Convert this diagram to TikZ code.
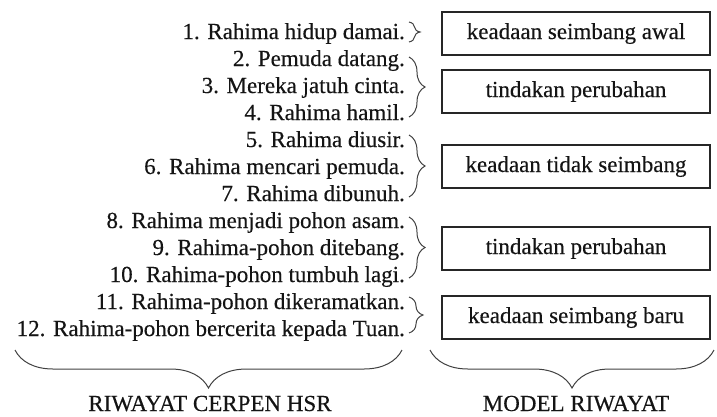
\documentclass[tikz,border=0pt]{standalone}
\usepackage{fontspec}
\setmainfont{Liberation Serif}[FakeBold=0.35]
\usetikzlibrary{decorations.pathreplacing,calc}
\begin{document}
\begin{tikzpicture}[x=1pt,y=1pt,
  every node/.style={font=\fontsize{23}{27}\selectfont, inner sep=0pt, text=black!92},
  ln/.style={anchor=base east},
  mbox/.style={draw=black!85, line width=1.6pt, minimum width=268pt, minimum height=43pt},
  brc/.style={decorate, decoration={brace, amplitude=#1}, line width=1pt, draw=black!75},
  lbl/.style={anchor=base},
]
\useasboundingbox (0,0) rectangle (717,-416);
% story lines
\node[ln] (l1)  at (405,-39)  {1. Rahima hidup damai.};
\node[ln] (l2)  at (405,-66)  {2. Pemuda datang.};
\node[ln] (l3)  at (405,-93)  {3. Mereka jatuh cinta.};
\node[ln] (l4)  at (405,-120) {4. Rahima hamil.};
\node[ln] (l5)  at (405,-147) {5. Rahima diusir.};
\node[ln] (l6)  at (405,-174) {6. Rahima mencari pemuda.};
\node[ln] (l7)  at (405,-201) {7. Rahima dibunuh.};
\node[ln] (l8)  at (405,-228) {8. Rahima menjadi pohon asam.};
\node[ln] (l9)  at (405,-255) {9. Rahima-pohon ditebang.};
\node[ln] (l10) at (405,-282) {10. Rahima-pohon tumbuh lagi.};
\node[ln] (l11) at (405,-309) {11. Rahima-pohon dikeramatkan.};
\node[ln] (l12) at (405,-336) {12. Rahima-pohon bercerita kepada Tuan.};
% model boxes
\node[mbox] (b1) at (576,-33.5)  {keadaan seimbang awal};
\node[mbox] (b2) at (576,-91.5)  {tindakan perubahan};
\node[mbox] (b3) at (576,-166.5) {keadaan tidak seimbang};
\node[mbox] (b4) at (576,-248.5) {tindakan perubahan};
\node[mbox] (b5) at (576,-317.5) {keadaan seimbang baru};
% brace column
\coordinate (bx) at (409,0);
\draw[brc=11] ($(l1.base -| bx)+(0,17)$) -- ($(l1.base -| bx)+(0,-3)$);
\draw[brc=16] ($(l2.base -| bx)+(0,9)$) -- ($(l4.base -| bx)+(0,3)$);
\draw[brc=16] ($(l5.base -| bx)+(0,12)$) -- ($(l7.base -| bx)+(0,4)$);
\draw[brc=16] ($(l8.base -| bx)+(0,11)$) -- ($(l10.base -| bx)+(0,4)$);
\draw[brc=14] ($(l11.base -| bx)+(0,12)$) -- ($(l12.base -| bx)+(0,3)$);
% big braces
\coordinate (lbL) at (15,-350);
\coordinate (lbR) at (402,-350);
\coordinate (rbL) at (430,-350);
\coordinate (rbR) at (714,-350);
\draw[brc=38] (lbR) -- (lbL);
\draw[brc=38] (rbR) -- (rbL);
\node[lbl] (t1) at (210,-411) {RIWAYAT CERPEN HSR};
\node[lbl] (t2) at (576,-411) {MODEL RIWAYAT};
\end{tikzpicture}
\end{document}
